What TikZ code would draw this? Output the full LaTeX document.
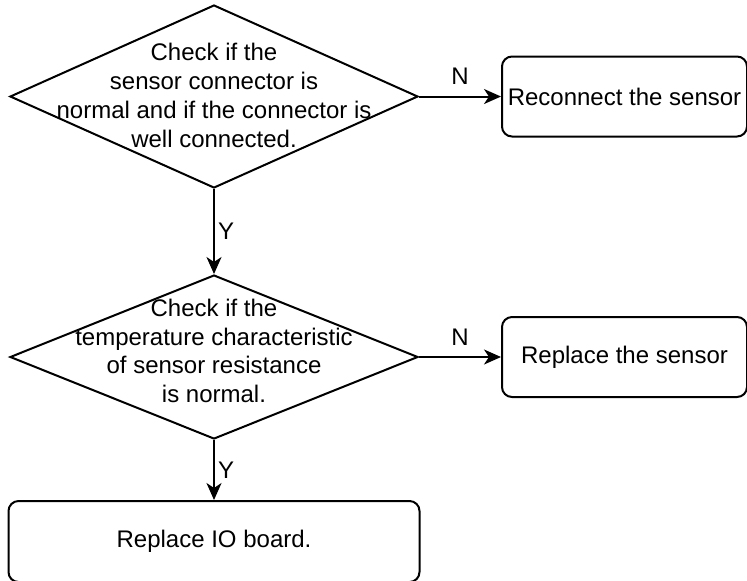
\documentclass[tikz,border=0pt]{standalone}
\usepackage{fontspec}
\setmainfont{Liberation Sans}
\usepackage{tikz}
\usetikzlibrary{shapes.geometric, arrows.meta, positioning}
\tikzstyle{arrow} = [
  -{Stealth[length=8.5pt, width=7.5pt, inset=2.5pt]}, line width=1pt, color=black
]

\begin{document}
\begin{tikzpicture}[
  every node/.style={font=\fontsize{12}{14.4}\selectfont},
  decision/.style={diamond, draw, line width=1pt, inner sep=0pt,
                   minimum width=204pt},
  box/.style={rectangle, rounded corners=5pt, draw, line width=1pt,
              inner sep=1pt, minimum height=40pt, text centered},
  txt/.style={align=center, inner sep=0pt},
]
  \useasboundingbox (0,0) rectangle (373.5pt,-290pt);

  \node[decision, minimum height=91.5pt] (conn) at (107pt,-48.25pt) {};
  \node[txt] (conntext) at ([yshift=0.5pt]conn.center)
    {Check if the\\sensor connector is\\normal and if the connector is\\well connected.};
  \node[box, minimum width=122.5pt, right=41pt of conn]
    (reconn) {Reconnect the sensor};

  \node[decision, minimum height=82pt, below=42.5pt of conn] (temp) {};
  \node[txt] (temptext) at ([yshift=3pt]temp.center)
    {Check if the\\temperature characteristic\\of sensor resistance\\is normal.};
  \node[box, minimum width=122.5pt, right=41pt of temp]
    (replsens) {Replace the sensor};

  \node[box, minimum width=205.5pt, minimum height=40.5pt, below=30pt of temp]
    (replio) {Replace IO board.};

  \draw[arrow] (conn) -- node[above=2pt]{N} (reconn);
  \draw[arrow] (conn) -- node[right, inner sep=1.5pt]{Y} (temp);
  \draw[arrow] (temp) -- node[above=2pt]{N} (replsens);
  \draw[arrow] (temp) -- node[right, inner sep=1.5pt]{Y} (replio);
\end{tikzpicture}
\end{document}
